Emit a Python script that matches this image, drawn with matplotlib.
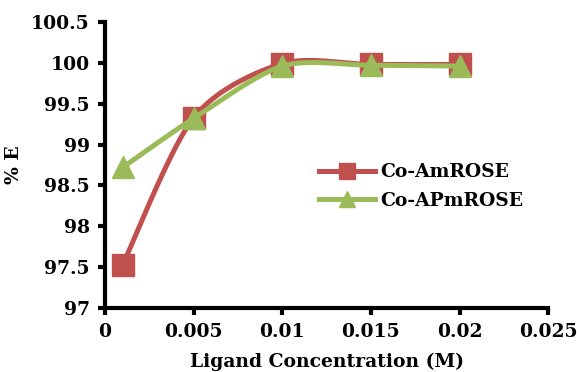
import numpy as np
import matplotlib
matplotlib.use("Agg")
import matplotlib.pyplot as plt

conc = [0.001, 0.005, 0.01, 0.015, 0.02]
am_rose = [97.53, 99.33, 99.99, 99.98, 99.98]
apm_rose = [98.72, 99.32, 99.96, 99.97, 99.96]

xticks = [0, 0.005, 0.01, 0.015, 0.02, 0.025]
xlabels = ["0", "0.005", "0.01", "0.015", "0.02", "0.025"]
yticks = [97, 97.5, 98, 98.5, 99, 99.5, 100, 100.5]
ylabels = ["97", "97.5", "98", "98.5", "99", "99.5", "100", "100.5"]

RED = "#C0504D"
GREEN = "#9BBB59"
FONT = "DejaVu Serif"
FS = 13.5


def smooth(x, y, xr, yr, n=40):
    # Excel-like smoothed line (bezier through points), done in axes-fraction space
    p = np.column_stack([(np.array(x) - xr[0]) / (xr[1] - xr[0]),
                         (np.array(y) - yr[0]) / (yr[1] - yr[0])])
    pts = np.vstack([p[0], p, p[-1]])
    out = []
    t = np.linspace(0, 1, n)[:, None]
    for i in range(1, len(pts) - 2):
        p0, p1, p2, p3 = pts[i - 1], pts[i], pts[i + 1], pts[i + 2]
        c1 = p1 + (p2 - p0) / 7
        c2 = p2 - (p3 - p1) / 7
        seg = ((1 - t) ** 3) * p1 + 3 * ((1 - t) ** 2) * t * c1 + 3 * (1 - t) * t ** 2 * c2 + t ** 3 * p2
        out.append(seg)
    s = np.vstack(out)
    return s[:, 0] * (xr[1] - xr[0]) + xr[0], s[:, 1] * (yr[1] - yr[0]) + yr[0]


xr = (0, 0.025)
yr = (97, 100.5)

fig = plt.figure(figsize=(5.77, 3.72), dpi=100)
ax = fig.add_axes([0.182, 0.172, 0.768, 0.769])

for y, c, m, lab in [(am_rose, RED, "s", "Co-AmROSE"), (apm_rose, GREEN, "^", "Co-APmROSE")]:
    sx, sy = smooth(conc, y, xr, yr)
    ax.plot(sx, sy, color=c, lw=3.6, solid_capstyle="round")
    ax.plot(conc, y, ls="none", marker=m, ms=16, color=c)
    ax.plot([], [], color=c, lw=3.6, marker=m, ms=12, label=lab)

ax.set_xlim(xr)
ax.set_ylim(yr)
ax.set_xticks(xticks)
ax.set_xticklabels(xlabels)
ax.set_yticks(yticks)
ax.set_yticklabels(ylabels)
for s in ["top", "right"]:
    ax.spines[s].set_visible(False)
for s in ["left", "bottom"]:
    ax.spines[s].set_linewidth(3)
ax.tick_params(length=5, width=3, labelsize=FS, pad=6)
for t in ax.get_xticklabels() + ax.get_yticklabels():
    t.set_fontfamily(FONT)
    t.set_fontweight("bold")

ax.set_xlabel("Ligand Concentration (M)", fontsize=FS, fontweight="bold", fontfamily=FONT, labelpad=8)
ax.set_ylabel("% E", fontsize=FS, fontweight="bold", fontfamily=FONT, labelpad=6)

ax.legend(loc="upper left", bbox_to_anchor=(0.445, 0.565), frameon=False,
          prop={"family": FONT, "weight": "bold", "size": FS},
          handlelength=3.0, handletextpad=0.25, labelspacing=0.55)

fig.savefig("out.png", dpi=100)
